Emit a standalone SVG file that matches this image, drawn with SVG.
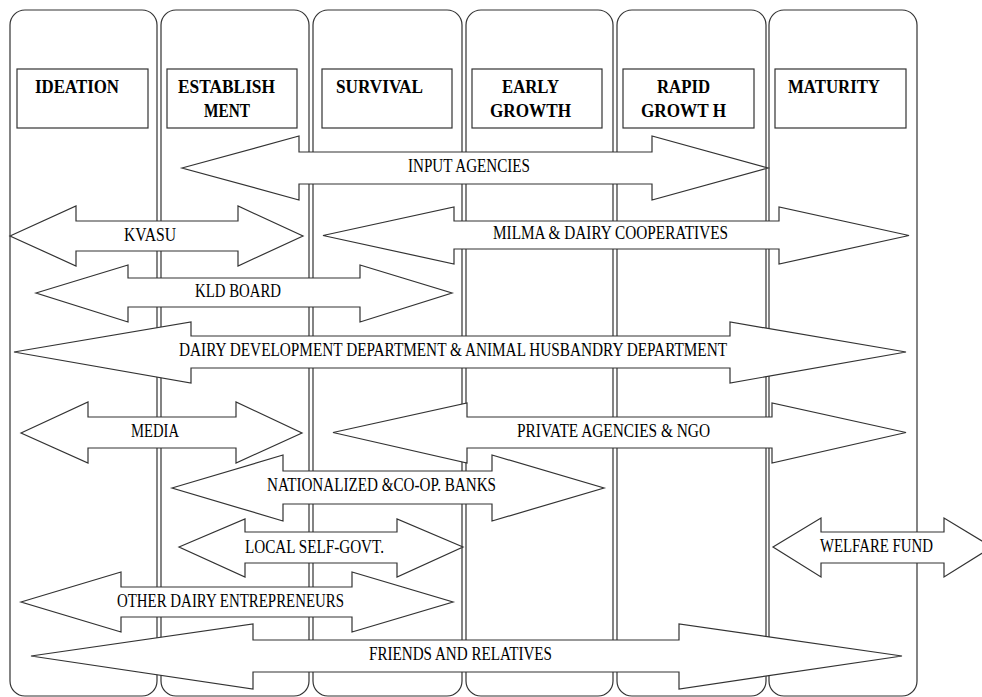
<svg xmlns="http://www.w3.org/2000/svg" width="982" height="697" viewBox="0 0 982 697">
<style>
.col{fill:#fff;stroke:#333;stroke-width:1.2}
.hdr{fill:#fff;stroke:#333;stroke-width:1.2}
.arr{fill:#fff;stroke:#333;stroke-width:1.2;stroke-linejoin:miter}
.ht{font-family:"Liberation Serif","Times New Roman",serif;font-weight:bold;font-size:19px;fill:#000}
.lt{font-family:"Liberation Serif","Times New Roman",serif;font-size:18px;fill:#000}
</style>
<rect width="982" height="697" fill="#fff"/>
<g id="stages">
<g id="stage-ideation">
<rect class="col" x="10" y="10" width="147" height="686" rx="15"/>
<rect class="hdr" x="17" y="69" width="131" height="59"/>
<text class="ht" x="35" y="93" textLength="84" lengthAdjust="spacingAndGlyphs">IDEATION</text>
</g>
<g id="stage-establishment">
<rect class="col" x="161" y="10" width="148" height="686" rx="15"/>
<rect class="hdr" x="167" y="69" width="130" height="59"/>
<text class="ht" x="178" y="93" textLength="97" lengthAdjust="spacingAndGlyphs">ESTABLISH</text>
<text class="ht" x="204" y="117" textLength="46" lengthAdjust="spacingAndGlyphs">MENT</text>
</g>
<g id="stage-survival">
<rect class="col" x="313" y="10" width="149" height="686" rx="15"/>
<rect class="hdr" x="322" y="69" width="130" height="59"/>
<text class="ht" x="336" y="93" textLength="87" lengthAdjust="spacingAndGlyphs">SURVIVAL</text>
</g>
<g id="stage-early-growth">
<rect class="col" x="466" y="10" width="147" height="686" rx="15"/>
<rect class="hdr" x="472" y="69" width="130" height="59"/>
<text class="ht" x="502" y="93" textLength="57" lengthAdjust="spacingAndGlyphs">EARLY</text>
<text class="ht" x="490" y="117" textLength="81" lengthAdjust="spacingAndGlyphs">GROWTH</text>
</g>
<g id="stage-rapid-growth">
<rect class="col" x="617" y="10" width="149" height="686" rx="15"/>
<rect class="hdr" x="623" y="69" width="131" height="59"/>
<text class="ht" x="657" y="93" textLength="53" lengthAdjust="spacingAndGlyphs">RAPID</text>
<text class="ht" x="641" y="117" textLength="85" lengthAdjust="spacingAndGlyphs">GROWT H</text>
</g>
<g id="stage-maturity">
<rect class="col" x="769" y="10" width="148" height="686" rx="15"/>
<rect class="hdr" x="775" y="69" width="131" height="59"/>
<text class="ht" x="788" y="93" textLength="92" lengthAdjust="spacingAndGlyphs">MATURITY</text>
</g>
</g>
<g id="connectors">
<g id="input-agencies">
<path class="arr" d="M182,168 L299,136 L299,152 L652,152 L652,136 L768,168 L652,200 L652,184 L299,184 L299,200 Z"/>
<text class="lt" x="408" y="172" textLength="122" lengthAdjust="spacingAndGlyphs">INPUT AGENCIES</text>
</g>
<g id="kvasu">
<path class="arr" d="M10,236 L76,206 L76,221 L238,221 L238,206 L303,236 L238,266 L238,251 L76,251 L76,266 Z"/>
<text class="lt" x="124" y="241" textLength="52" lengthAdjust="spacingAndGlyphs">KVASU</text>
</g>
<g id="milma">
<path class="arr" d="M323,235.5 L454,207 L454,221 L779,221 L779,207 L909,235.5 L779,264 L779,249 L454,249 L454,264 Z"/>
<text class="lt" x="493" y="239" textLength="235" lengthAdjust="spacingAndGlyphs">MILMA &amp; DAIRY COOPERATIVES</text>
</g>
<g id="kld-board">
<path class="arr" d="M36,293 L128,265 L128,278 L360,278 L360,265 L452,293 L360,322 L360,307 L128,307 L128,322 Z"/>
<text class="lt" x="195" y="297" textLength="86" lengthAdjust="spacingAndGlyphs">KLD BOARD</text>
</g>
<g id="dairy-dev">
<path class="arr" d="M14,352 L191,322 L191,336 L730,336 L730,322 L906,352 L730,383 L730,368 L191,368 L191,383 Z"/>
<text class="lt" x="179" y="356" textLength="548" lengthAdjust="spacingAndGlyphs">DAIRY DEVELOPMENT DEPARTMENT &amp; ANIMAL HUSBANDRY DEPARTMENT</text>
</g>
<g id="media">
<path class="arr" d="M21,433 L88,402 L88,417 L236,417 L236,402 L302,433 L236,463 L236,448 L88,448 L88,463 Z"/>
<text class="lt" x="131" y="437" textLength="48" lengthAdjust="spacingAndGlyphs">MEDIA</text>
</g>
<g id="private-ngo">
<path class="arr" d="M333,432.5 L467,403 L467,417 L772,417 L772,403 L906,432.5 L772,463 L772,448 L467,448 L467,463 Z"/>
<text class="lt" x="517" y="437" textLength="193" lengthAdjust="spacingAndGlyphs">PRIVATE AGENCIES &amp; NGO</text>
</g>
<g id="banks">
<path class="arr" d="M172,488 L283,455 L283,471 L492,471 L492,455 L604,488 L492,521 L492,504 L283,504 L283,521 Z"/>
<text class="lt" x="267" y="491" textLength="229" lengthAdjust="spacingAndGlyphs">NATIONALIZED &amp;CO-OP. BANKS</text>
</g>
<g id="local-self-govt">
<path class="arr" d="M179,547 L245,519 L245,532 L397,532 L397,519 L463,547 L397,577 L397,563 L245,563 L245,577 Z"/>
<text class="lt" x="245" y="553" textLength="139" lengthAdjust="spacingAndGlyphs">LOCAL SELF-GOVT.</text>
</g>
<g id="other-entrepreneurs">
<path class="arr" d="M21,602 L121,572 L121,587 L352,587 L352,572 L453,602 L352,632 L352,617 L121,617 L121,632 Z"/>
<text class="lt" x="117" y="607" textLength="227" lengthAdjust="spacingAndGlyphs">OTHER DAIRY ENTREPRENEURS</text>
</g>
<g id="friends-relatives">
<path class="arr" d="M31,656 L253,624 L253,640 L679,640 L679,624 L902,656 L679,689 L679,672 L253,672 L253,689 Z"/>
<text class="lt" x="369" y="660" textLength="183" lengthAdjust="spacingAndGlyphs">FRIENDS AND RELATIVES</text>
</g>
<g id="welfare-fund">
<path class="arr" d="M773,547 L821,518 L821,532 L944,532 L944,518 L992,547 L944,577 L944,563 L821,563 L821,577 Z"/>
<text class="lt" x="820" y="552" textLength="113" lengthAdjust="spacingAndGlyphs">WELFARE FUND</text>
</g>
</g>
</svg>
